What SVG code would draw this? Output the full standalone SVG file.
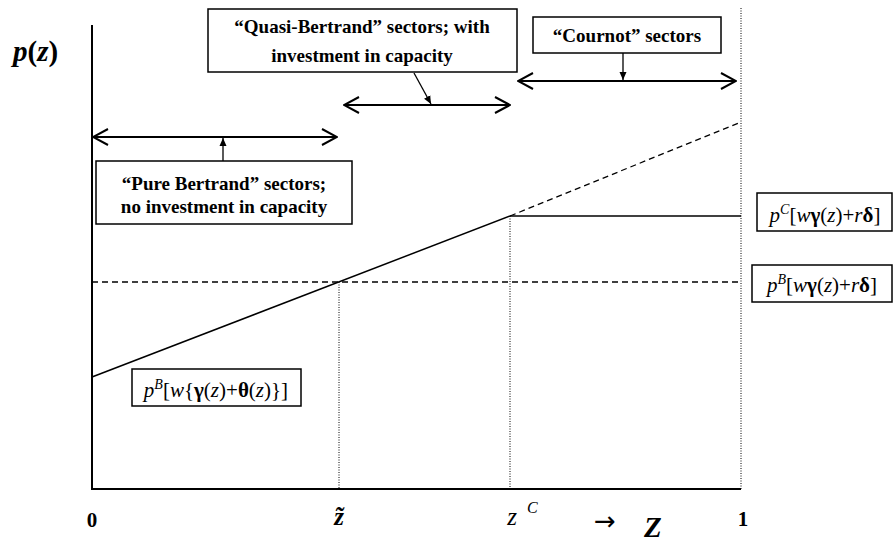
<svg xmlns="http://www.w3.org/2000/svg" width="893" height="542" viewBox="0 0 893 542">
<defs>
  <marker id="chev" viewBox="0 0 17 18" refX="16" refY="9" markerWidth="17" markerHeight="18" markerUnits="userSpaceOnUse" orient="auto-start-reverse">
    <path d="M1,1 L16,9 L1,17" fill="none" stroke="#000" stroke-width="2"/>
  </marker>
  <marker id="tip" viewBox="0 0 8 8" refX="8" refY="4" markerWidth="8" markerHeight="8" markerUnits="userSpaceOnUse" orient="auto">
    <path d="M0,0.5 L8,4 L0,7.5 Z" fill="#000"/>
  </marker>
</defs>

<g id="axes" stroke="#000" fill="none">
  <line x1="92" y1="25" x2="92" y2="489" stroke-width="2"/>
  <line x1="91" y1="489" x2="741" y2="489" stroke-width="2"/>
  <line x1="741" y1="8" x2="741" y2="489" stroke-width="1" stroke-dasharray="1 1.5"/>
</g>

<g id="connectors" stroke="#000" fill="none">
  <g stroke-width="1.5">
    <line x1="92" y1="377" x2="510" y2="216"/>
    <line x1="510" y1="216" x2="741" y2="216"/>
  </g>
  <g stroke-width="1.3" stroke-dasharray="6 4">
    <line x1="510" y1="216" x2="741" y2="122"/>
    <line x1="92" y1="282" x2="741" y2="282"/>
  </g>
  <g stroke-width="1" stroke-dasharray="1 1.5">
    <line x1="339" y1="282" x2="339" y2="489"/>
    <line x1="510" y1="216" x2="510" y2="489"/>
  </g>
  <g stroke-width="2" marker-start="url(#chev)" marker-end="url(#chev)">
    <line x1="93" y1="137" x2="337" y2="137"/>
    <line x1="344" y1="105" x2="510" y2="105"/>
    <line x1="518" y1="81" x2="736" y2="81"/>
  </g>
  <g stroke-width="1.3" marker-end="url(#tip)">
    <line x1="223" y1="161" x2="223" y2="138"/>
    <line x1="414" y1="73" x2="431" y2="104"/>
    <line x1="623" y1="53" x2="623" y2="80"/>
  </g>
</g>

<g id="label-pz">
  <text x="13" y="61" font-family="Liberation Serif" font-size="29" font-weight="bold"><tspan font-style="italic">p</tspan>(<tspan font-style="italic">z</tspan>)</text>
</g>

<g id="node-pure">
  <rect x="96" y="161" width="256" height="63" fill="#fff" stroke="#000" stroke-width="1.5"/>
  <text x="224" y="190" font-family="Liberation Serif" font-size="19" font-weight="bold" text-anchor="middle">“Pure Bertrand” sectors;</text>
  <text x="224" y="213" font-family="Liberation Serif" font-size="19" font-weight="bold" text-anchor="middle">no investment in capacity</text>
</g>

<g id="node-quasi">
  <rect x="208" y="9" width="309" height="63" fill="#fff" stroke="#000" stroke-width="1.5"/>
  <text x="362" y="33" font-family="Liberation Serif" font-size="19" font-weight="bold" text-anchor="middle">“Quasi-Bertrand” sectors; with</text>
  <text x="362" y="62" font-family="Liberation Serif" font-size="19" font-weight="bold" text-anchor="middle">investment in capacity</text>
</g>

<g id="node-cournot">
  <rect x="533" y="17" width="188" height="36" fill="#fff" stroke="#000" stroke-width="1.5"/>
  <text x="627" y="42" font-family="Liberation Serif" font-size="19" font-weight="bold" text-anchor="middle">“Cournot” sectors</text>
</g>

<g id="node-pc">
  <rect x="757" y="193" width="135" height="38" fill="#fff" stroke="#000" stroke-width="1.5"/>
  <text x="825" y="222" font-family="Liberation Serif" font-size="21" text-anchor="middle"><tspan font-style="italic">p</tspan><tspan font-style="italic" dy="-8" font-size="14">C</tspan><tspan dy="8">[</tspan><tspan font-style="italic">w</tspan><tspan font-weight="bold">γ</tspan>(<tspan font-style="italic">z</tspan>)+<tspan font-style="italic">r</tspan><tspan font-weight="bold">δ</tspan>]</text>
</g>

<g id="node-pb-right">
  <rect x="752" y="265" width="140" height="37" fill="#fff" stroke="#000" stroke-width="1.5"/>
  <text x="822" y="292" font-family="Liberation Serif" font-size="21" text-anchor="middle"><tspan font-style="italic">p</tspan><tspan font-style="italic" dy="-8" font-size="14">B</tspan><tspan dy="8">[</tspan><tspan font-style="italic">w</tspan><tspan font-weight="bold">γ</tspan>(<tspan font-style="italic">z</tspan>)+<tspan font-style="italic">r</tspan><tspan font-weight="bold">δ</tspan>]</text>
</g>

<g id="node-pb-left">
  <rect x="132" y="369" width="169" height="37" fill="#fff" stroke="#000" stroke-width="1.5"/>
  <text x="216" y="397" font-family="Liberation Serif" font-size="21" text-anchor="middle"><tspan font-style="italic">p</tspan><tspan font-style="italic" dy="-8" font-size="14">B</tspan><tspan dy="8">[</tspan><tspan font-style="italic">w</tspan>{<tspan font-weight="bold">γ</tspan>(<tspan font-style="italic">z</tspan>)+<tspan font-weight="bold">θ</tspan>(<tspan font-style="italic">z</tspan>)}]</text>
</g>

<g id="axis-labels">
  <text x="92" y="527" font-family="Liberation Serif" font-size="21" font-weight="bold" text-anchor="middle">0</text>
  <text x="743" y="526" font-family="Liberation Serif" font-size="21" font-weight="bold" text-anchor="middle">1</text>
  <text x="339" y="525" font-family="Liberation Serif" font-size="25" font-style="italic" font-weight="bold" text-anchor="middle">z&#x303;</text>
  <text x="512" y="525" font-family="Liberation Serif" font-size="25" font-style="italic" text-anchor="middle">z</text>
  <text x="527" y="513" font-family="Liberation Serif" font-size="16" font-style="italic">C</text>
  <text x="594" y="530" font-family="DejaVu Sans" font-size="26">→</text>
  <text x="644" y="537" font-family="Liberation Serif" font-size="29" font-weight="bold" font-style="italic">Z</text>
</g>
</svg>
